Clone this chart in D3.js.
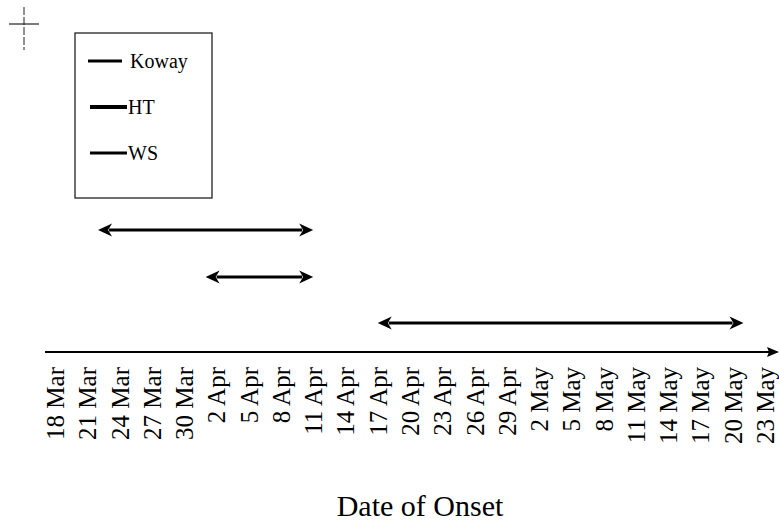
<!DOCTYPE html>
<html>
<head>
<meta charset="utf-8">
<script src="https://cdn.jsdelivr.net/npm/d3@7"></script>
<style>
  body { margin: 0; background: #fff; }
  svg { display: block; }
  svg text { font-family: "Liberation Serif", "Times New Roman", serif; }
</style>
</head>
<body>
<script>
// tick labels along the date axis (every 3 days)
const tickLabels = ["18 Mar", "21 Mar", "24 Mar", "27 Mar", "30 Mar", "2 Apr", "5 Apr", "8 Apr",
  "11 Apr", "14 Apr", "17 Apr", "20 Apr", "23 Apr", "26 Apr", "29 Apr", "2 May", "5 May",
  "8 May", "11 May", "14 May", "17 May", "20 May", "23 May"];

// clusters and their onset ranges
const clusters = ["Koway", "HT", "WS"];
const startDates = ["2003-03-22", "2003-04-01", "2003-04-17"];
const endDates = ["2003-04-11", "2003-04-11", "2003-05-21"];

document.addEventListener("DOMContentLoaded", function () {
    const width = 779, height = 523;
    const parse = d3.utcParse("%Y-%m-%d");

    const svg = d3.select("body").append("svg")
        .attr("width", width)
        .attr("height", height)
        .attr("viewBox", `0 0 ${width} ${height}`);

    // x scale over the date range
    const x = d3.scaleUtc()
        .domain([parse("2003-03-18"), parse("2003-05-23")])
        .range([55, 765]);

    const axisY = 352;
    const tickDates = d3.utcDay.range(parse("2003-03-18"), d3.utcDay.offset(parse("2003-05-23"), 1), 3);

    // axis line with arrowhead on the right
    svg.append("line")
        .attr("x1", 45).attr("y1", axisY)
        .attr("x2", 771).attr("y2", axisY)
        .attr("stroke", "#000").attr("stroke-width", 2.2);
    svg.append("path")
        .attr("d", `M779,${axisY} L767,${axisY - 5} L769,${axisY} L767,${axisY + 5} Z`)
        .attr("fill", "#000");

    // rotated tick labels, using the axis generator for placement
    const axis = d3.axisBottom(x)
        .tickValues(tickDates)
        .tickFormat((d, i) => tickLabels[i])
        .tickSize(0)
        .tickPadding(0);

    const gAxis = svg.append("g")
        .attr("transform", `translate(0,${axisY})`)
        .attr("font-family", null)
        .call(axis);
    gAxis.select(".domain").remove();
    gAxis.attr("font-family", null);
    gAxis.selectAll("text")
        .attr("font-size", 25)
        .attr("fill", "#000")
        .attr("text-anchor", "end")
        .attr("y", 0)
        .attr("dy", "0.34em")
        .attr("transform", "translate(0,15) rotate(-90)");

    // double-headed arrows for each cluster
    const rowY = { Koway: 230, HT: 277, WS: 323 };
    const head = 14, half = 6.5;
    clusters.forEach(function (c, i) {
        const x1 = x(parse(startDates[i]));
        const x2 = x(parse(endDates[i]));
        const y = rowY[c];
        svg.append("line")
            .attr("x1", x1 + head - 3).attr("y1", y)
            .attr("x2", x2 - head + 3).attr("y2", y)
            .attr("stroke", "#000").attr("stroke-width", 3.2);
        svg.append("path")
            .attr("d", `M${x1},${y} L${x1 + head},${y - half} L${x1 + head - 4},${y} L${x1 + head},${y + half} Z`)
            .attr("fill", "#000");
        svg.append("path")
            .attr("d", `M${x2},${y} L${x2 - head},${y - half} L${x2 - head + 4},${y} L${x2 - head},${y + half} Z`)
            .attr("fill", "#000");
    });

    // legend box
    svg.append("rect")
        .attr("x", 75).attr("y", 33)
        .attr("width", 137).attr("height", 165)
        .attr("fill", "none")
        .attr("stroke", "#222").attr("stroke-width", 1.3);

    const legendRows = [
        { y: 61, x1: 88, x2: 122, w: 3, tx: 130 },
        { y: 107, x1: 90, x2: 127, w: 4, tx: 128 },
        { y: 153, x1: 90, x2: 127, w: 3, tx: 128 }
    ];
    clusters.forEach(function (c, i) {
        const r = legendRows[i];
        svg.append("line")
            .attr("x1", r.x1).attr("y1", r.y)
            .attr("x2", r.x2).attr("y2", r.y)
            .attr("stroke", "#000").attr("stroke-width", r.w);
        svg.append("text")
            .attr("x", r.tx).attr("y", r.y + 7)
            .attr("font-size", 20)
            .attr("fill", "#000")
            .text(c);
    });

    // small registration cross in the top-left corner
    svg.append("line")
        .attr("x1", 24).attr("y1", 7).attr("x2", 24).attr("y2", 50)
        .attr("stroke", "#222").attr("stroke-width", 1)
        .attr("stroke-dasharray", "8,2");
    svg.append("line")
        .attr("x1", 9).attr("y1", 24).attr("x2", 39).attr("y2", 24)
        .attr("stroke", "#222").attr("stroke-width", 1.2);

    // axis title
    svg.append("text")
        .attr("x", 420).attr("y", 516)
        .attr("text-anchor", "middle")
        .attr("font-size", 30)
        .attr("fill", "#000")
        .text("Date of Onset");
});
</script>
</body>
</html>
